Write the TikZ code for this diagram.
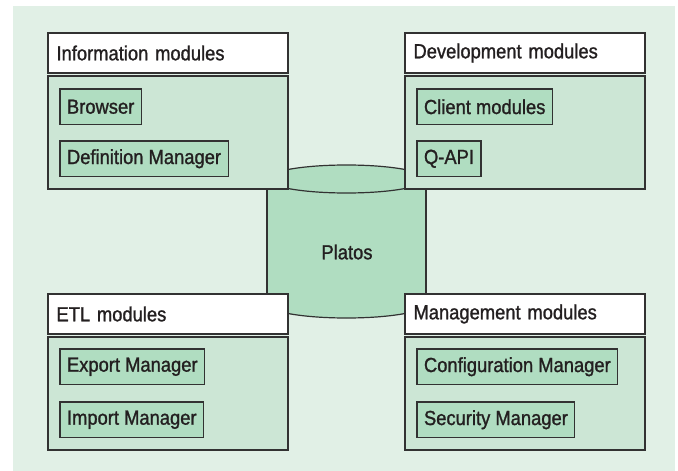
\documentclass[tikz,border=0pt]{standalone}
\usepackage{fontspec}
\setmainfont{Liberation Sans}[FakeStretch=0.9, FakeBold=1.2]
\definecolor{bggreen}{RGB}{225,240,230}
\definecolor{panelgreen}{RGB}{204,230,213}
\definecolor{boxgreen}{RGB}{176,221,193}
\definecolor{linegray}{RGB}{50,50,50}
\definecolor{textgray}{RGB}{35,31,32}

\begin{document}
\begin{tikzpicture}[x=1pt,y=-1pt]
    \tikzset{every node/.style = {font=\fontsize{20.4}{24}\selectfont, text=textgray, outer sep=0pt}}
    \tikzset{outline/.style = {draw=linegray, line width=1.2pt}}
    \tikzset{header/.style = {outline, fill=white, anchor=north west, minimum width=240pt, minimum height=40pt, inner xsep=8pt, text width=223pt, align=left}}
    \tikzset{panel/.style = {outline, fill=panelgreen, anchor=north west, minimum width=240pt, minimum height=113pt}}
    \tikzset{module/.style = {outline, fill=boxgreen, anchor=north west, minimum height=35.5pt, inner xsep=7pt}}
    \useasboundingbox (0,0) rectangle (678,471);
    \fill[bggreen] (13,6) rectangle (675,471);
    % database
    \draw[outline, fill=boxgreen] (346.5,304) ellipse [x radius=79.5, y radius=14];
    \fill[boxgreen] (267,179) rectangle (426,304);
    \draw[outline] (267,179) -- (267,304) (426,179) -- (426,304);
    \draw[outline, fill=boxgreen] (346.5,179) ellipse [x radius=79.5, y radius=14];
    \node (platos) at (347,252) {Platos};
    % information modules
    \node[header] (info) at (48,33) {Information modules};
    \node[panel] (infopanel) at (48,76) {};
    \node[module] (browser) at (60,89) {Browser};
    \node[module] (defman) at (60,141) {Definition Manager};
    % development modules
    \node[header] (dev) at (405,33) {Development modules};
    \node[panel] (devpanel) at (405,76) {};
    \node[module] (client) at (417,89) {Client modules};
    \node[module] (qapi) at (417,141) {Q-API};
    % ETL modules
    \node[header] (etl) at (48,294) {ETL modules};
    \node[panel] (etlpanel) at (48,337) {};
    \node[module] (export) at (60,349) {Export Manager};
    \node[module] (import) at (60,402) {Import Manager};
    % management modules
    \node[header] (mgmt) at (405,294) {Management modules};
    \node[panel] (mgmtpanel) at (405,337) {};
    \node[module] (config) at (417,349) {Configuration Manager};
    \node[module] (security) at (417,402) {Security Manager};
\end{tikzpicture}
\end{document}
